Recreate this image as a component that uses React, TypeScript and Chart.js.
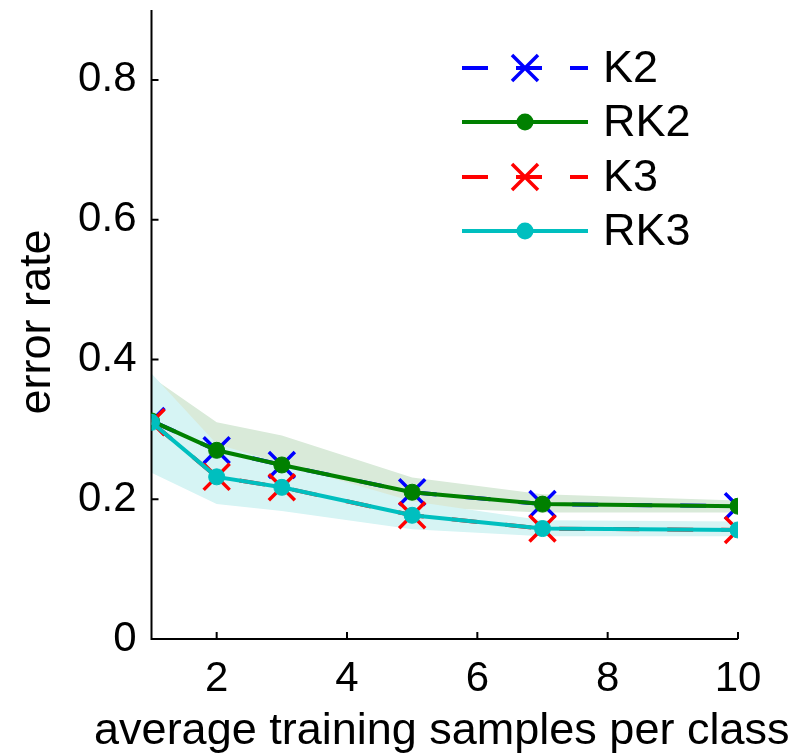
import React, { useEffect, useRef } from 'react';
import { Chart, registerables } from 'chart.js';

Chart.register(...registerables);

const xValues = [1, 2, 3, 5, 7, 10];
const k2Values = [0.312, 0.27, 0.249, 0.21, 0.193, 0.19];
const rk2Values = [0.312, 0.27, 0.249, 0.21, 0.193, 0.19];
const k3Values = [0.31, 0.232, 0.217, 0.177, 0.158, 0.156];
const rk3Values = [0.31, 0.232, 0.217, 0.177, 0.158, 0.156];
const rk2Upper = [0.375, 0.31, 0.291, 0.231, 0.207, 0.198];
const rk2Lower = [0.249, 0.23, 0.207, 0.189, 0.181, 0.181];
const rk3Upper = [0.38, 0.279, 0.251, 0.197, 0.17, 0.168];
const rk3Lower = [0.238, 0.193, 0.183, 0.157, 0.147, 0.147];
const seriesLabels = ['K2', 'RK2', 'K3', 'RK3'];
const xTickValues = [2, 4, 6, 8, 10];
const yTickValues = [0, 0.2, 0.4, 0.6, 0.8];
const xTitle = 'average training samples per class';
const yTitle = 'error rate';

const FONT = '"Liberation Sans", Arial, Helvetica, sans-serif';

const pts = (ys: number[]) => xValues.map((x, i) => ({ x, y: ys[i] }));

const legendStyles = [
  { color: '#0000ff', dashed: true, marker: 'cross' },
  { color: '#008000', dashed: false, marker: 'circle' },
  { color: '#ff0000', dashed: true, marker: 'cross' },
  { color: '#00bfbf', dashed: false, marker: 'circle' },
];

function drawMarker(ctx: CanvasRenderingContext2D, kind: string, color: string, x: number, y: number) {
  ctx.save();
  if (kind === 'cross') {
    const h = 13;
    ctx.strokeStyle = color;
    ctx.lineWidth = 3.5;
    ctx.setLineDash([]);
    ctx.beginPath();
    ctx.moveTo(x - h, y - h);
    ctx.lineTo(x + h, y + h);
    ctx.moveTo(x + h, y - h);
    ctx.lineTo(x - h, y + h);
    ctx.stroke();
  } else {
    ctx.fillStyle = color;
    ctx.beginPath();
    ctx.arc(x, y, 8.5, 0, Math.PI * 2);
    ctx.fill();
  }
  ctx.restore();
}

const matlabPlugin = {
  id: 'matlabAxes',
  afterDatasetDraw(chart: any, args: any) {
    if (args.index !== 3) return;
    const { ctx, chartArea, scales } = chart;
    const { left, right, top, bottom } = chartArea;
    ctx.save();
    ctx.strokeStyle = '#000';
    ctx.lineWidth = 2;
    ctx.beginPath();
    ctx.moveTo(left, top);
    ctx.lineTo(left, bottom);
    ctx.lineTo(right, bottom);
    ctx.stroke();
    ctx.beginPath();
    xTickValues.forEach((v) => {
      const px = scales.x.getPixelForValue(v);
      ctx.moveTo(px, bottom);
      ctx.lineTo(px, bottom - 7);
    });
    yTickValues.forEach((v) => {
      const py = scales.y.getPixelForValue(v);
      ctx.moveTo(left, py);
      ctx.lineTo(left + 7, py);
    });
    ctx.stroke();
    ctx.restore();
  },
  afterDraw(chart: any) {
    const { ctx, chartArea } = chart;
    ctx.save();
    // axis titles (drawn here so they are not squeezed to the chart area width)
    ctx.fillStyle = '#000';
    ctx.font = `45px ${FONT}`;
    ctx.textAlign = 'center';
    ctx.textBaseline = 'alphabetic';
    ctx.fillText(xTitle, (chartArea.left + chartArea.right) / 2 - 3, 744);
    ctx.save();
    ctx.translate(50, 322);
    ctx.rotate(-Math.PI / 2);
    ctx.fillText(yTitle, 0, 0);
    ctx.restore();

    const rowY = [68, 122, 177, 231];
    const x0 = 462;
    const x1 = 588;
    const xm = (x0 + x1) / 2;
    seriesLabels.forEach((label, i) => {
      const st = legendStyles[i];
      const y = rowY[i];
      ctx.strokeStyle = st.color;
      ctx.lineWidth = 4;
      ctx.setLineDash(st.dashed ? [26, 28] : []);
      ctx.beginPath();
      ctx.moveTo(x0, y);
      ctx.lineTo(x1, y);
      ctx.stroke();
      ctx.setLineDash([]);
      drawMarker(ctx, st.marker, st.color, xm, y);
      ctx.fillStyle = '#000';
      ctx.font = `45px ${FONT}`;
      ctx.textBaseline = 'middle';
      ctx.textAlign = 'left';
      ctx.fillText(label, 603, y + 2);
    });
    ctx.restore();
  },
};

export default function App() {
  const canvasRef = useRef<HTMLCanvasElement>(null);

  useEffect(() => {
    document.body.style.margin = '0';
    const canvas = canvasRef.current;
    if (!canvas) return;
    const bandCommon = {
      showLine: true,
      borderWidth: 0,
      borderColor: 'rgba(0,0,0,0)',
      pointRadius: 0,
      pointHoverRadius: 0,
    };
    const chart = new Chart(canvas, {
      type: 'line',
      data: {
        datasets: [
          { ...bandCommon, label: 'rk2Upper', data: pts(rk2Upper), fill: false, order: 11 },
          { ...bandCommon, label: 'rk2Lower', data: pts(rk2Lower), fill: 0, backgroundColor: 'rgb(217,234,217)', order: 10 },
          { ...bandCommon, label: 'rk3Upper', data: pts(rk3Upper), fill: false, order: 9 },
          { ...bandCommon, label: 'rk3Lower', data: pts(rk3Lower), fill: 2, backgroundColor: 'rgb(214,244,244)', order: 8 },
          {
            label: seriesLabels[0], data: pts(k2Values), borderColor: '#0000ff', borderWidth: 4, borderDash: [26, 28],
            pointStyle: 'crossRot', pointRadius: 18.4, pointBorderWidth: 3.5, pointBorderColor: '#0000ff',
            pointBackgroundColor: '#0000ff', fill: false, order: 4,
          },
          {
            label: seriesLabels[1], data: pts(rk2Values), borderColor: '#008000', borderWidth: 4,
            pointStyle: 'circle', pointRadius: 8, pointBorderWidth: 1, pointBorderColor: '#008000',
            pointBackgroundColor: '#008000', fill: false, order: 3,
          },
          {
            label: seriesLabels[2], data: pts(k3Values), borderColor: '#ff0000', borderWidth: 4, borderDash: [26, 28],
            pointStyle: 'crossRot', pointRadius: 18.4, pointBorderWidth: 3.5, pointBorderColor: '#ff0000',
            pointBackgroundColor: '#ff0000', fill: false, order: 2,
          },
          {
            label: seriesLabels[3], data: pts(rk3Values), borderColor: '#00bfbf', borderWidth: 4,
            pointStyle: 'circle', pointRadius: 8, pointBorderWidth: 1, pointBorderColor: '#00bfbf',
            pointBackgroundColor: '#00bfbf', fill: false, order: 1,
          },
        ],
      },
      options: {
        responsive: false,
        animation: false,
        events: [],
        layout: { autoPadding: false, padding: { left: 0, right: 57, top: 10, bottom: 0 } },
        plugins: { legend: { display: false }, tooltip: { enabled: false } },
        scales: {
          x: {
            type: 'linear',
            min: 1,
            max: 10,
            grid: { display: false, drawTicks: false },
            border: { display: false },
            ticks: {
              color: '#000',
              font: { family: FONT, size: 42 },
              padding: 15,
              maxRotation: 0,
              autoSkip: false,
            },
            afterBuildTicks: (scale: any) => {
              scale.ticks = xTickValues.map((v) => ({ value: v }));
            },
            afterFit: (scale: any) => {
              scale.height = 115;
              scale.paddingLeft = 0;
              scale.paddingRight = 0;
            },
            title: { display: false },
          },
          y: {
            type: 'linear',
            min: 0,
            max: 0.9,
            grid: { display: false, drawTicks: false },
            border: { display: false },
            ticks: {
              color: '#000',
              font: { family: FONT, size: 42 },
              padding: 15,
              callback: (v: any) => (v === 0 ? '0' : Number(v).toFixed(1)),
            },
            afterBuildTicks: (scale: any) => {
              scale.ticks = yTickValues.map((v) => ({ value: v }));
            },
            afterFit: (scale: any) => {
              scale.width = 151.5;
              scale.paddingTop = 0;
              scale.paddingBottom = 0;
            },
            title: { display: false },
          },
        },
      },
      plugins: [matlabPlugin],
    } as any);
    return () => chart.destroy();
  }, []);

  return (
    <div style={{ width: 795, height: 754 }}>
      <canvas ref={canvasRef} width={795} height={754} style={{ display: 'block' }} />
    </div>
  );
}
